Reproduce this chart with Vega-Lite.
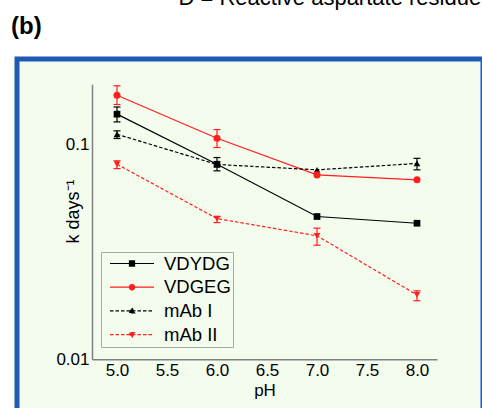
{
  "$schema": "https://vega.github.io/schema/vega-lite/v6.json",
  "background": "white",
  "padding": {"left": 8, "top": -14, "right": 0, "bottom": 0},
  "title": {"text": "D = Reactive aspartate residues", "anchor": "start", "dx": 170, "offset": 3, "fontSize": 22, "font": "Liberation Sans", "fontWeight": "normal", "color": "black"},
  "datasets": {
    "pts": [
      {"series": "VDYDG", "pH": 5.0, "k": 0.138},
      {"series": "VDYDG", "pH": 6.0, "k": 0.0807},
      {"series": "VDYDG", "pH": 7.0, "k": 0.0461},
      {"series": "VDYDG", "pH": 8.0, "k": 0.0429},
      {"series": "VDGEG", "pH": 5.0, "k": 0.169},
      {"series": "VDGEG", "pH": 6.0, "k": 0.1066},
      {"series": "VDGEG", "pH": 7.0, "k": 0.072},
      {"series": "VDGEG", "pH": 8.0, "k": 0.0683},
      {"series": "mAb I", "pH": 5.0, "k": 0.1113},
      {"series": "mAb I", "pH": 6.0, "k": 0.0805},
      {"series": "mAb I", "pH": 7.0, "k": 0.076},
      {"series": "mAb I", "pH": 8.0, "k": 0.0814},
      {"series": "mAb II", "pH": 5.0, "k": 0.0807},
      {"series": "mAb II", "pH": 6.0, "k": 0.0451},
      {"series": "mAb II", "pH": 7.0, "k": 0.0375},
      {"series": "mAb II", "pH": 8.0, "k": 0.0199}
    ],
    "err": [
      {"series": "VDYDG", "pH": 5.0, "lo": 0.127, "hi": 0.149},
      {"series": "VDYDG", "pH": 6.0, "lo": 0.0752, "hi": 0.0867},
      {"series": "VDGEG", "pH": 5.0, "lo": 0.153, "hi": 0.187},
      {"series": "VDGEG", "pH": 6.0, "lo": 0.0965, "hi": 0.117},
      {"series": "mAb I", "pH": 5.0, "lo": 0.1063, "hi": 0.1154},
      {"series": "mAb I", "pH": 8.0, "lo": 0.076, "hi": 0.086},
      {"series": "mAb II", "pH": 5.0, "lo": 0.077, "hi": 0.0837},
      {"series": "mAb II", "pH": 6.0, "lo": 0.0432, "hi": 0.0461},
      {"series": "mAb II", "pH": 7.0, "lo": 0.0339, "hi": 0.0407},
      {"series": "mAb II", "pH": 8.0, "lo": 0.0187, "hi": 0.0208}
    ]
  },
  "resolve": {"scale": {"color": "independent", "fill": "independent", "stroke": "independent", "shape": "independent", "strokeDash": "independent"},
              "legend": {"color": "independent", "fill": "independent", "stroke": "independent", "shape": "independent", "strokeDash": "independent"}},
  "vconcat": [
    {
      "title": {"text": "(b)", "anchor": "start", "dx": -6, "offset": 20, "fontSize": 24, "font": "Liberation Sans", "fontWeight": "bold", "color": "black"},
      "width": 466,
      "height": 368,
      "encoding": {
        "x": {"field": "pH", "type": "quantitative",
          "scale": {"domain": [4.75, 8.2], "range": [75, 420], "nice": false, "zero": false},
          "axis": {"orient": "bottom", "offset": -67.8, "values": [5, 5.5, 6, 6.5, 7, 7.5, 8], "format": ".1f", "title": "pH", "titlePadding": 4}},
        "y": {"type": "quantitative",
          "scale": {"type": "log", "domain": [0.01, 0.19], "range": [300.2, 25.3], "nice": false, "zero": false},
          "axis": {"orient": "left", "offset": -75, "values": [0.01, 0.1], "format": "~g", "title": "k days⁻¹", "titleFontSize": 18, "titleX": -14, "titleY": 152, "titleAngle": -90, "titleAlign": "center", "titleBaseline": "alphabetic"}}
      },
      "layer": [
        {
          "data": {"name": "pts"},
          "transform": [{"filter": "datum.series == 'VDYDG' || datum.series == 'VDGEG'"}],
          "mark": {"type": "line", "strokeWidth": 1.2},
          "encoding": {
            "y": {"field": "k"},
            "color": {"field": "series", "type": "nominal", "legend": null,
              "scale": {"domain": ["mAb II", "mAb I", "VDGEG", "VDYDG"], "range": ["#ff1f1f", "#000000", "#ff1f1f", "#000000"]}}
          }
        },
        {
          "data": {"name": "pts"},
          "transform": [{"filter": "datum.series == 'mAb I' || datum.series == 'mAb II'"}],
          "mark": {"type": "line", "strokeWidth": 1.2, "strokeDash": [3.5, 2]},
          "encoding": {
            "y": {"field": "k"},
            "color": {"field": "series", "type": "nominal", "legend": null}
          }
        },
        {
          "data": {"name": "err"},
          "mark": {"type": "rule", "strokeWidth": 1.2},
          "encoding": {
            "y": {"field": "lo"},
            "y2": {"field": "hi"},
            "color": {"field": "series", "type": "nominal", "legend": null}
          }
        },
        {
          "data": {"name": "err"},
          "mark": {"type": "tick", "orient": "horizontal", "size": 7, "thickness": 1.2, "opacity": 1},
          "encoding": {
            "y": {"field": "lo"},
            "color": {"field": "series", "type": "nominal", "legend": null}
          }
        },
        {
          "data": {"name": "err"},
          "mark": {"type": "tick", "orient": "horizontal", "size": 7, "thickness": 1.2, "opacity": 1},
          "encoding": {
            "y": {"field": "hi"},
            "color": {"field": "series", "type": "nominal", "legend": null}
          }
        },
        {
          "data": {"name": "pts"},
          "transform": [{"filter": "datum.series == 'mAb I'"}],
          "mark": {"type": "point", "shape": "triangle-up", "filled": true, "size": 45, "opacity": 1, "color": "#000000"},
          "encoding": {"y": {"field": "k"}}
        },
        {
          "data": {"name": "pts"},
          "transform": [{"filter": "datum.series == 'mAb II'"}],
          "mark": {"type": "point", "shape": "triangle-down", "filled": true, "size": 45, "opacity": 1, "color": "#ff1f1f"},
          "encoding": {"y": {"field": "k"}}
        },
        {
          "data": {"name": "pts"},
          "transform": [{"filter": "datum.series == 'VDYDG'"}],
          "mark": {"type": "point", "shape": "square", "filled": true, "size": 45, "opacity": 1, "color": "#000000"},
          "encoding": {"y": {"field": "k"}}
        },
        {
          "data": {"name": "pts"},
          "transform": [{"filter": "datum.series == 'VDGEG'"}],
          "mark": {"type": "point", "shape": "circle", "filled": true, "size": 50, "opacity": 1, "color": "#ff1f1f"},
          "encoding": {"y": {"field": "k"}}
        },
        {
          "data": {"name": "pts"},
          "transform": [{"filter": "false"}],
          "mark": {"type": "point", "filled": true, "opacity": 1, "strokeWidth": 1.2, "size": 1936},
          "encoding": {
            "y": {"field": "k"},
            "fill": {"field": "series", "type": "nominal",
              "scale": {"domain": ["VDYDG", "VDGEG", "mAb I", "mAb II"], "range": ["#000000", "#ff1f1f", "#000000", "#ff1f1f"]},
              "legend": {"title": null, "orient": "none", "legendX": 84, "legendY": 193, "direction": "vertical",
                "padding": 2, "symbolOffset": 6, "clipHeight": 19, "rowPadding": 4.7, "labelOffset": 9,
                "labelFontSize": 18.5, "labelFont": "Liberation Sans", "labelColor": "black", "labelLimit": 200,
                "symbolSize": 1936, "symbolStrokeWidth": 1.2, "symbolOpacity": 1,
                "strokeColor": "#aaaaaa"}},
            "stroke": {"field": "series", "type": "nominal",
              "scale": {"domain": ["VDYDG", "VDGEG", "mAb I", "mAb II"], "range": ["#000000", "#ff1f1f", "#000000", "#ff1f1f"]},
              "legend": {"title": null, "orient": "none", "legendX": 84, "legendY": 193}},
            "strokeDash": {"field": "series", "type": "nominal",
              "scale": {"domain": ["VDYDG", "VDGEG", "mAb I", "mAb II"], "range": [[1, 0], [1, 0], [3.5, 2], [3.5, 2]]},
              "legend": {"title": null, "orient": "none", "legendX": 84, "legendY": 193}},
            "shape": {"field": "series", "type": "nominal",
              "scale": {"domain": ["VDYDG", "VDGEG", "mAb I", "mAb II"],
                "range": [
                  "M-1,0H1M-0.115,-0.115H0.115V0.115H-0.115Z",
                  "M-1,0H1M0.12,0A0.12,0.12,0,1,1,-0.12,0A0.12,0.12,0,1,1,0.12,0Z",
                  "M-1,0H1M0,-0.13L0.12,0.09H-0.12Z",
                  "M-1,0H1M0,0.13L0.12,-0.09H-0.12Z"
                ]},
              "legend": {"title": null, "orient": "none", "legendX": 84, "legendY": 193}}
          }
        }
      ]
    }
  ],
  "config": {
    "font": "Liberation Sans",
    "view": {"fill": "#f4fcee", "stroke": "#1f5bb5", "strokeWidth": 5},
    "axis": {
      "grid": false, "ticks": false, "domainColor": "#808080", "domainWidth": 1.5,
      "labelFont": "Liberation Sans", "labelFontSize": 17, "labelColor": "black", "labelPadding": 3,
      "titleFont": "Liberation Sans", "titleFontSize": 17, "titleFontWeight": "normal", "titleColor": "black"
    },
    "legend": {"labelFont": "Liberation Sans"}
  }
}
